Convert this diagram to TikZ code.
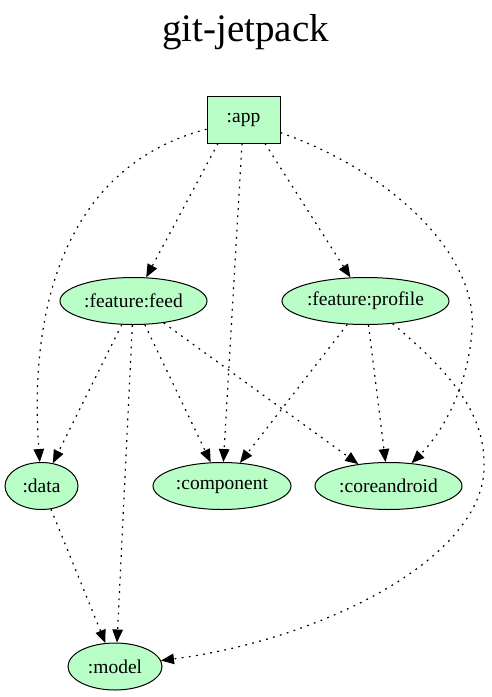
\documentclass[tikz,border=0pt]{standalone}
\usepackage{fontspec}
\setmainfont{Liberation Serif}
\usetikzlibrary{shapes.geometric,arrows.meta}
\definecolor{modgreen}{HTML}{B9FDC7}
\begin{document}
\begin{tikzpicture}[x=1pt, y=-1pt,
        every node/.style={draw, fill=modgreen, inner sep=0pt, line width=1pt,
            font=\fontsize{19.5}{23}\selectfont},
        module/.style={ellipse, minimum height=47pt},
        dep/.style={line width=1.2pt, dash pattern=on 1.8pt off 5.4pt,
            -{Triangle[length=13pt,width=10.5pt]}}]
    \useasboundingbox (0,0) rectangle (491,697);
    \node[draw=none, fill=none, font=\fontsize{39}{47}\selectfont] (title) at (245.5,32) {git-jetpack};
    \node[rectangle, minimum width=73pt, minimum height=47pt] (app) at (243.5,119.5) {:app};
    \node[module, minimum width=147pt] (feed) at (133.5,301) {:feature:feed};
    \node[module, minimum width=167pt] (profile) at (365.5,301) {:feature:profile};
    \node[module, minimum width=73pt] (data) at (41.5,486) {:data};
    \node[module, minimum width=138pt] (component) at (222,486) {:component};
    \node[module, minimum width=147pt] (coreandroid) at (388.5,486) {:coreandroid};
    \node[module, minimum width=94pt] (model) at (115,666.5) {:model};
    % :app
    \draw[dep] ([xshift=-25.5pt]app.south) -- (feed);
    \draw[dep] ([xshift=21.5pt]app.south) -- (profile);
    \draw[dep] ([xshift=-1.5pt]app.south) -- (component);
    \draw[dep] (app) .. controls (70,165) and (28,300) .. (data);
    \draw[dep] (app) .. controls (400,175) and (478,260) .. (472,330)
        .. controls (468,390) and (440,435) .. (coreandroid);
    % :feature:feed
    \draw[dep] (feed) -- (data);
    \draw[dep] (feed) -- ([xshift=2pt]model.north);
    \draw[dep] (feed) -- (component);
    \draw[dep] (feed) -- (coreandroid);
    % :feature:profile
    \draw[dep] (profile) -- (component);
    \draw[dep] (profile) -- (coreandroid);
    \draw[dep] (profile) .. controls (460,380) and (486,420) .. (484,470)
        .. controls (480,560) and (320,640) .. (model);
    % :data
    \draw[dep] (data) -- (model);
\end{tikzpicture}
\end{document}
